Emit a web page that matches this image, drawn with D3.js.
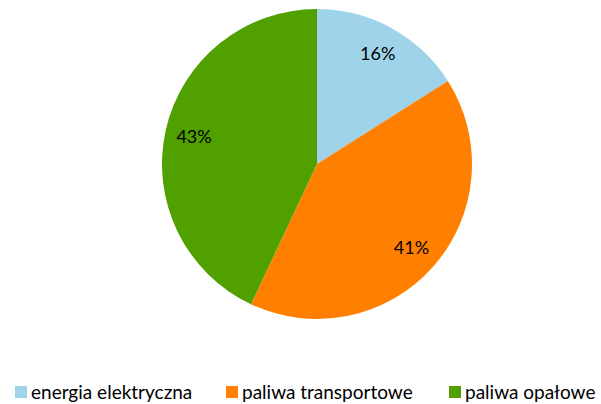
<!DOCTYPE html>
<html><head><meta charset="utf-8">
<script src="https://cdn.jsdelivr.net/npm/d3@7"></script>
<style>body{margin:0;background:#fff}svg{display:block}</style>
</head><body>
<svg id="c" width="601" height="404"></svg>
<script>
const categories = ["energia elektryczna", "paliwa transportowe", "paliwa opałowe"];
const values = [16, 41, 43];
const colors = ["#9fd3ea", "#ff8000", "#50a000"];

const svg = d3.select("#c");
const cx = 317, cy = 164, R = 155;
const g = svg.append("g").attr("transform", `translate(${cx},${cy})`);
const pie = d3.pie().sort(null).value(d => d)(values);
const arc = d3.arc().innerRadius(0).outerRadius(R);
const labelArc = d3.arc().innerRadius(126).outerRadius(126);
g.selectAll("path").data(pie).join("path")
  .attr("d", arc).attr("fill", (d, i) => colors[i]);
g.selectAll("text").data(pie).join("text")
  .attr("transform", d => `translate(${labelArc.centroid(d)})`)
  .attr("text-anchor", "middle").attr("dy", "0.35em")
  .style("font-family", "Lato, 'Open Sans', sans-serif").style("font-size", "18px")
  .attr("fill", "#000")
  .text(d => d.data + "%");

const legX = [15, 226, 449];
const leg = svg.append("g");
categories.forEach((c, i) => {
  leg.append("rect").attr("x", legX[i]).attr("y", 386).attr("width", 12).attr("height", 12).attr("fill", colors[i]);
  leg.append("text").attr("x", legX[i] + 16).attr("y", 392).attr("dy", "0.35em")
    .style("font-family", "Lato, 'Open Sans', sans-serif").style("font-size", "19px")
    .attr("fill", "#000").text(c);
});
</script>
</body></html>
